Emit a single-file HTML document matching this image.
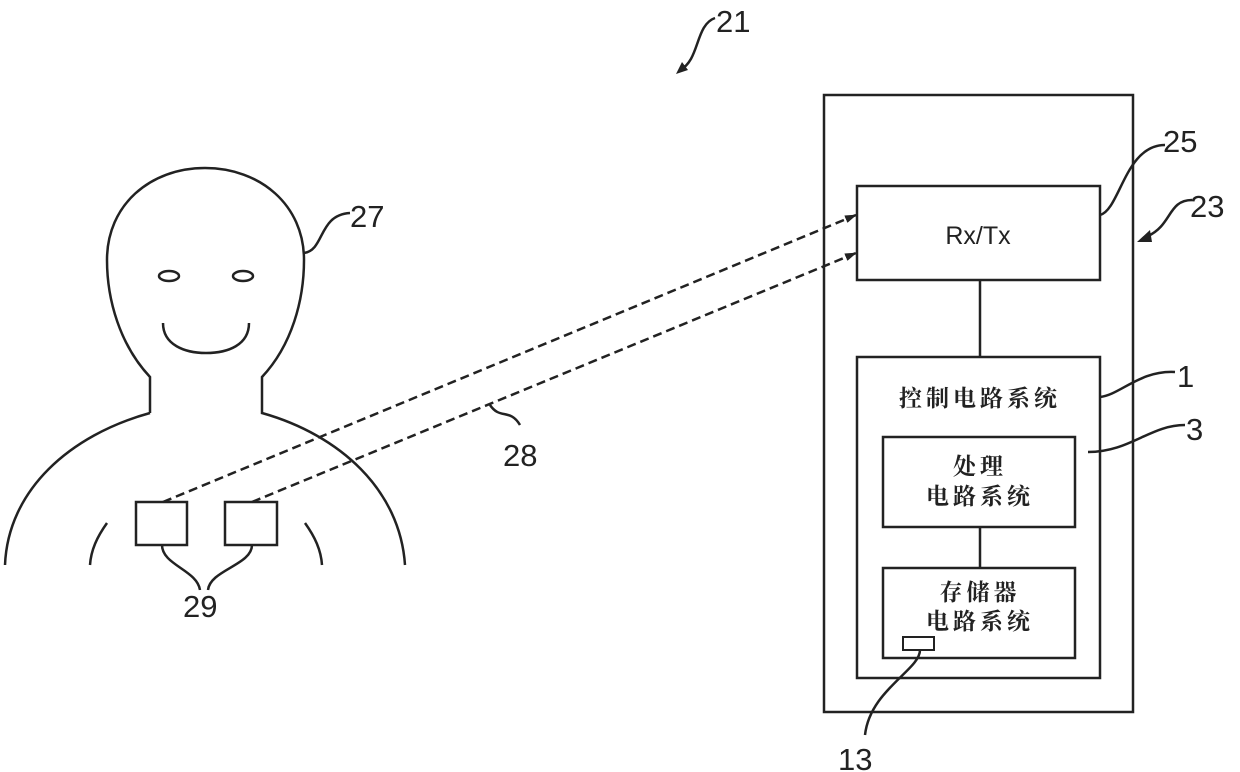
<!DOCTYPE html>
<html><head><meta charset="utf-8"><style>
body{margin:0;background:#fff}
svg{display:block}
text{font-family:"Liberation Sans",sans-serif;fill:#222}
.cn{font-family:"Liberation Serif","Noto Serif CJK SC",serif;font-weight:bold;font-size:23px;letter-spacing:4px}
</style></head><body>
<svg width="1240" height="772" viewBox="0 0 1240 772" xmlns="http://www.w3.org/2000/svg">
<defs><marker id="a" markerWidth="12" markerHeight="8" refX="11" refY="4" orient="auto" markerUnits="userSpaceOnUse"><path d="M0,0 L12,4 L0,8 z" fill="#222"/></marker></defs>
<g fill="none" stroke="#222" stroke-width="2.5">
<path d="M150,413 L150,377 C120,345 107,300 107,260 C107,205 150,168 205,168 C260,168 304,205 304,260 C304,300 292,345 262,377 L262,413 C340,435 400,490 405,565"/>
<path d="M150,413 C70,435 8,490 5,565"/>
<ellipse cx="169" cy="276" rx="10" ry="5"/>
<ellipse cx="243" cy="276" rx="10" ry="5"/>
<path d="M163,323 C163,345 185,353 206,353 C228,353 249,345 249,323"/>
<path d="M107,523 C97,537 91,550 90,565"/>
<path d="M305,523 C315,537 321,550 322,565"/>
<rect x="136" y="502" width="51" height="43"/>
<rect x="225" y="502" width="52" height="43"/>
<path d="M162,545 C162,565 197,570 200,590"/>
<path d="M252,545 C252,565 210,570 208,590"/>
<path d="M304,253 C325,250 318,215 350,213"/>
<path d="M490,405 C500,420 510,408 520,425"/>
<rect x="824" y="95" width="309" height="617"/>
<rect x="857" y="186" width="243" height="94"/>
<rect x="857" y="357" width="243" height="321"/>
<rect x="883" y="437" width="192" height="90"/>
<rect x="883" y="568" width="192" height="90"/>
<rect x="903" y="637" width="31" height="13" stroke-width="2"/>
<path d="M980,280 L980,357 M980,527 L980,568"/>
<path d="M1100,215 C1120,210 1125,145 1165,145"/>
<path d="M1100,397 C1120,395 1140,370 1175,372"/>
<path d="M1088,452 C1130,452 1150,425 1185,425"/>
<path d="M920,650 C920,670 870,690 865,735"/>
<path d="M1148,236 C1172,225 1168,200 1192,200"/>
<path d="M680,70 C700,60 695,25 715,18"/>
</g>
<g fill="none" stroke="#222" stroke-width="2.5" stroke-dasharray="9,5">
<path d="M163,502 L856,215" marker-end="url(#a)"/>
<path d="M252,502 L856,253" marker-end="url(#a)"/>
</g>
<path d="M1137,242 L1150,230 L1152,242 z" fill="#222"/>
<path d="M676,74 L682,62 L688,70 z" fill="#222"/>
<text x="716" y="32" font-size="31">21</text>
<text x="350" y="227" font-size="31">27</text>
<text x="1163" y="152" font-size="31">25</text>
<text x="1190" y="217" font-size="31">23</text>
<text x="1177" y="387" font-size="31">1</text>
<text x="1186" y="440" font-size="31">3</text>
<text x="503" y="466" font-size="31">28</text>
<text x="183" y="617" font-size="31">29</text>
<text x="838" y="770" font-size="31">13</text>
<text x="978" y="244" font-size="25" text-anchor="middle">Rx/Tx</text>
<text class="cn" x="980" y="406" text-anchor="middle">控制电路系统</text>
<text class="cn" x="980" y="474" text-anchor="middle">处理</text>
<text class="cn" x="980" y="504" text-anchor="middle">电路系统</text>
<text class="cn" x="980" y="600" text-anchor="middle">存储器</text>
<text class="cn" x="980" y="629" text-anchor="middle">电路系统</text>
</svg>
</body></html>
